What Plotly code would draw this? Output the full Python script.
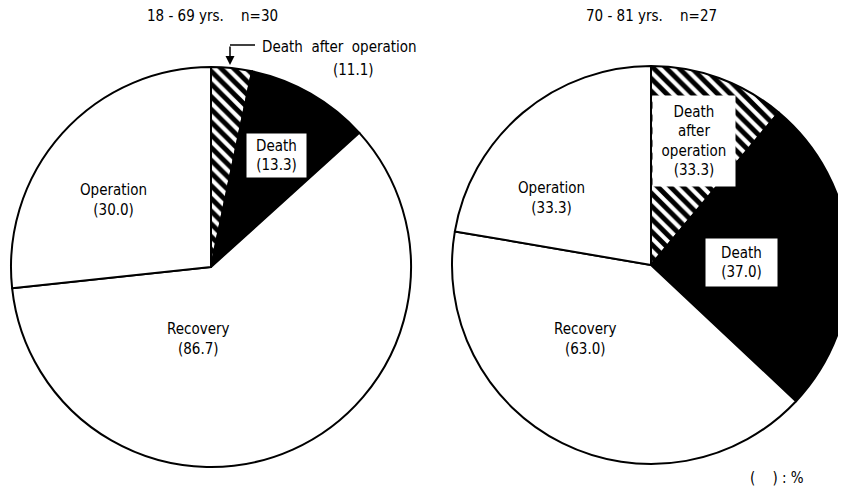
import plotly.graph_objects as go

W, H = 846, 490
OFF = 8  # the page body offsets the figure by 8 px

# ---- data ----
slices = ["Death after operation", "Death", "Recovery", "Operation"]
left_values = [3.3, 10.0, 60.0, 26.7]      # 18-69 yrs, n=30
right_values = [11.1, 25.9, 40.7, 22.3]    # 70-81 yrs, n=27
left_title = "18 - 69 yrs.    n=30"
right_title = "70 - 81 yrs.    n=27"
left_labels = {"dao": "(11.1)", "death": "(13.3)", "op": "(30.0)", "rec": "(86.7)"}
right_labels = {"dao": "(33.3)", "death": "(37.0)", "op": "(33.3)", "rec": "(63.0)"}

FONT = "DejaVu Sans Condensed, Liberation Sans Narrow, Arial Narrow, sans-serif"
FS = 15

def px(x, y):
    return (x - OFF) / W, 1 - (y - OFF) / H

def dom(cx, cy, r):
    x0, y1 = px(cx - r, cy - r)
    x1, y0 = px(cx + r, cy + r)
    return [max(0, x0), min(1, x1)], [max(0, y0), min(1, y1)]

colors = ["white", "black", "white", "white"]
patterns = ["\\", "", "", ""]

def pie(values, d):
    return go.Pie(
        labels=slices, values=values, sort=False, direction="clockwise", rotation=0,
        textinfo="none", hoverinfo="label+value", showlegend=False,
        domain=dict(x=d[0], y=d[1]),
        marker=dict(colors=colors, line=dict(color="black", width=2),
                    pattern=dict(shape=patterns, fgcolor="black", bgcolor="white",
                                 fgopacity=1, size=9, solidity=0.55, fillmode="overlay")),
    )

fig = go.Figure()
fig.add_trace(pie(left_values, dom(211, 267, 200)))
fig.add_trace(pie(right_values, dom(651, 265, 199)))

ann = []
def text(x, y, s, **kw):
    ax_, ay_ = px(x, y)
    d = dict(x=ax_, y=ay_, xref="paper", yref="paper", text=s, showarrow=False,
             font=dict(family=FONT, size=FS, color="black"), xanchor="center", yanchor="middle")
    d.update(kw)
    ann.append(d)

text(212, 16, left_title)
text(651, 16, right_title)

# left pie labels
text(339, 47, "Death  after  operation")
text(353, 70, left_labels["dao"])
text(276, 155, "Death<br>" + left_labels["death"], bgcolor="white", bordercolor="black",
     borderwidth=1.5, borderpad=2, width=56, height=40)
text(114, 200, "Operation<br>" + left_labels["op"])
text(198, 339, "Recovery<br>" + left_labels["rec"])

# right pie labels
text(694, 141, "Death<br>after<br>operation<br>" + right_labels["dao"], bgcolor="white",
     borderpad=3, width=76, height=84)
text(741, 262, "Death<br>" + right_labels["death"], bgcolor="white", bordercolor="black",
     borderwidth=1.5, borderpad=3, width=66, height=42)
text(551, 198, "Operation<br>" + right_labels["op"])
text(585, 339, "Recovery<br>" + right_labels["rec"])

text(777, 478, "(    ) : %")

# pointer arrow for "Death after operation" on the left pie
x0, y0 = px(230, 65)
ann.append(dict(x=x0, y=y0, xref="paper", yref="paper", text="", showarrow=True,
                axref="pixel", ayref="pixel", ax=0, ay=-20, arrowhead=2, arrowsize=1.2,
                arrowwidth=1.5, arrowcolor="black"))

shapes = []
sx0, sy0 = px(230, 45)
sx1, sy1 = px(255, 45)
shapes.append(dict(type="line", xref="paper", yref="paper", x0=sx0, y0=sy0, x1=sx1, y1=sy1,
                   line=dict(color="black", width=1.5)))

fig.update_layout(
    width=W, height=H, autosize=False,
    margin=dict(l=0, r=0, t=0, b=0),
    paper_bgcolor="white", plot_bgcolor="white",
    annotations=ann, shapes=shapes,
    font=dict(family=FONT, size=FS, color="black"),
)

fig.write_html("out.html")
